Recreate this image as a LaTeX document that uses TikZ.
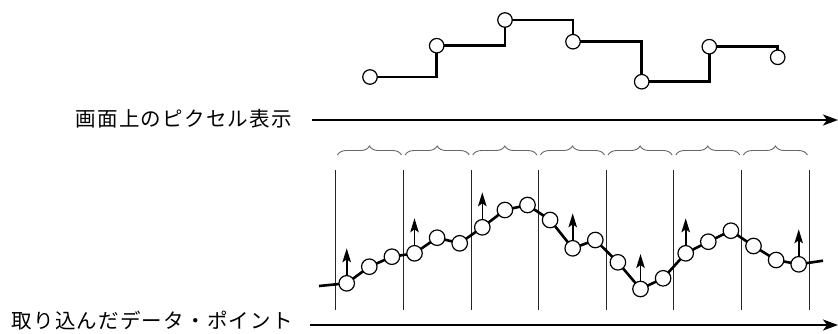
\documentclass[tikz,border=0pt]{standalone}
\usepackage{fontspec}
\newfontfamily\jpfont{Noto Sans CJK JP}[LetterSpace=6]
\usetikzlibrary{decorations.pathreplacing,arrows.meta}
\begin{document}
\begin{tikzpicture}[x=1pt,y=-1pt,
  topdot/.style={circle,draw=black,fill=white,line width=1.2pt,minimum size=14.5pt,inner sep=0pt},
  datadot/.style={circle,draw=black,fill=white,line width=1.2pt,minimum size=15.5pt,inner sep=0pt},
  stepline/.style={line width=2.5pt},
  dataline/.style={line width=2.6pt},
  axisarrow/.style={line width=1.8pt,-{Stealth[length=15pt,width=11pt,inset=4pt]}},
  uparrow/.style={line width=1.6pt,-{Stealth[length=14pt,width=8.5pt,inset=3pt]}},
  divider/.style={line width=1pt,black!85},
  pixbrace/.style={draw=black!60,line width=0.9pt,decorate,decoration={brace,amplitude=9pt}},
  label/.style={font=\jpfont\fontsize{20.5}{22}\selectfont,inner sep=0pt,anchor=east}
]
\useasboundingbox (0,0) rectangle (838,333);

% ---- top: displayed pixels ----
\coordinate (s1) at (370,77);
\coordinate (s2) at (436.7,45.7);
\coordinate (s3) at (505,20);
\coordinate (s4) at (573,41.7);
\coordinate (s5) at (641.7,81.7);
\coordinate (s6) at (709.3,46.7);
\coordinate (s7) at (777.7,57.3);
\draw[stepline] (s1) -| (s2) -| (s3) -| (s4) -| (s5) -| (s6) -| (s7);
\foreach \i in {1,...,7} \node[topdot] (sd\i) at (s\i) {};

% ---- labels and axes ----
\node[label] (t1) at (292,119) {画面上のピクセル表示};
\coordinate (a1s) at (312,120);
\coordinate (a1e) at (838,120);
\draw[axisarrow] (a1s) -- (a1e);

\node[label] (t2) at (293,320.5) {取り込んだデータ・ポイント};
\coordinate (a2s) at (310,325);
\coordinate (a2e) at (838,325);
\draw[axisarrow] (a2s) -- (a2e);

% ---- dividers and braces ----
\foreach \k in {0,...,7} {
  \coordinate (vt\k) at (335.7+67.65*\k,170);
  \coordinate (vb\k) at (335.7+67.65*\k,310);
  \draw[divider] (vt\k) -- (vb\k);
}
\foreach \k in {0,...,6} {
  \coordinate (bl\k) at (337.5+67.65*\k,155);
  \coordinate (br\k) at (401.5+67.65*\k,155);
  \draw[pixbrace] (bl\k) -- (br\k);
}

% ---- captured data points ----
\foreach \i/\y in {1/283.3,2/266.7,3/256.7,4/253.3,5/237.7,6/243.3,7/227.3,8/210,9/205,10/220,11/248.3,12/240,13/262.3,14/289,15/278.3,16/253.3,17/241.7,18/230.7,19/246,20/260,21/264.3}
  \coordinate (p\i) at (346.7+22.6*\i-22.6,\y);
\coordinate (pstart) at (319,286);
\coordinate (pbend) at (336,284.3);
\coordinate (pend) at (823,260.7);
\draw[dataline] (pstart) -- (pbend) -- (p1) -- (p2) -- (p3) -- (p4) -- (p5) -- (p6) -- (p7) -- (p8) -- (p9) -- (p10) -- (p11) -- (p12) -- (p13) -- (p14) -- (p15) -- (p16) -- (p17) -- (p18) -- (p19) -- (p20) -- (p21) -- (pend);
\foreach \i in {1,4,7,11,14,16,21} {
  \coordinate (q\i) at ([yshift=35pt]p\i);
  \draw[uparrow] (p\i) -- (q\i);
}
\foreach \i in {1,...,21} \node[datadot] (pd\i) at (p\i) {};
\end{tikzpicture}
\end{document}
